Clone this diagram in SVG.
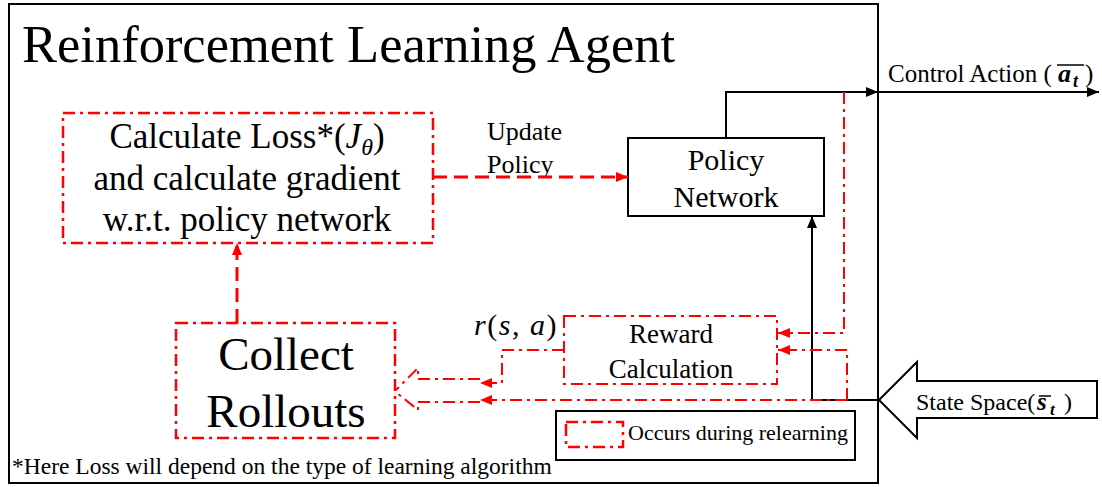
<svg xmlns="http://www.w3.org/2000/svg" width="1102" height="487" viewBox="0 0 1102 487">
<style>
text{font-family:"Liberation Serif","Times New Roman",serif;fill:#000}
.blk{fill:none;stroke:#000;stroke-width:2}
.rdd{fill:none;stroke:#f00;stroke-width:2.5;stroke-dasharray:12 5 3 5}
.rdl{fill:none;stroke:#f00;stroke-width:2;stroke-dasharray:12 5 3 5}
.rda{fill:none;stroke:#f00;stroke-width:3;stroke-dasharray:14 7}
.c{text-anchor:middle}
.mi{font-style:italic}
.mb{font-style:italic;font-weight:bold}
</style>
<defs>
<marker id="ar" viewBox="0 0 12 10" refX="12" refY="5" markerWidth="12" markerHeight="10" markerUnits="userSpaceOnUse" orient="auto"><path d="M0,0L12,5L0,10Z" fill="#f00"/></marker>
<marker id="ab" viewBox="0 0 12 10" refX="12" refY="5" markerWidth="12" markerHeight="10" markerUnits="userSpaceOnUse" orient="auto"><path d="M0,0L12,5L0,10Z" fill="#000"/></marker>
</defs>
<rect width="1102" height="487" fill="#fff"/>

<g id="agent">
<rect x="9" y="4" width="869" height="479" class="blk"/>
<text x="22" y="62" font-size="52.5">Reinforcement Learning Agent</text>
</g>

<g id="loss">
<rect x="63" y="113" width="370" height="130" class="rdd" stroke-width="3"/>
<text x="247" y="148" font-size="35" class="c">Calculate Loss*(<tspan class="mi">J</tspan><tspan class="mi" font-size="24" dy="7">θ</tspan><tspan dy="-7">)</tspan></text>
<text x="247" y="190" font-size="35" class="c">and calculate gradient</text>
<text x="247" y="231" font-size="35" class="c">w.r.t. policy network</text>
</g>

<g id="policy">
<rect x="628" y="138" width="196" height="78" class="blk"/>
<text x="726" y="170" font-size="30" class="c">Policy</text>
<text x="726" y="207" font-size="30" class="c">Network</text>
</g>

<g id="reward">
<rect x="564" y="316" width="213" height="68" class="rdl"/>
<text x="671" y="343" font-size="27" class="c">Reward</text>
<text x="671" y="378" font-size="27" class="c">Calculation</text>
</g>

<g id="collect">
<rect x="176" y="323" width="219" height="115" class="rdd"/>
<text x="286" y="370" font-size="47" class="c">Collect</text>
<text x="286" y="427" font-size="47" class="c">Rollouts</text>
</g>

<g id="state">
<path d="M879,400L917,362V381H1097V418H917V438Z" class="blk"/>
<text x="916" y="410" font-size="24">State Space(</text>
<text x="1037" y="410" font-size="25" class="mb">s</text>
<text x="1050" y="415" font-size="17" class="mb">t</text>
<text x="1064" y="410" font-size="24">)</text>
<line x1="1039" y1="396" x2="1051" y2="396" stroke="#000" stroke-width="1.5"/>
</g>

<g id="legend">
<rect x="556" y="411" width="299" height="49" class="blk"/>
<rect x="566" y="422" width="57" height="25" class="rdd" stroke-width="3"/>
<text x="628" y="440" font-size="22">Occurs during relearning</text>
</g>

<g id="labels">
<text x="487" y="140" font-size="26">Update</text>
<text x="487" y="173" font-size="26">Policy</text>
<text x="888" y="82" font-size="25">Control Action (</text>
<text x="1058" y="82" font-size="26" class="mb">a</text>
<text x="1073" y="87" font-size="18" class="mb">t</text>
<text x="1085" y="82" font-size="25">)</text>
<line x1="1057" y1="65" x2="1084" y2="65" stroke="#000" stroke-width="1.5"/>
<text x="474" y="335" font-size="30" letter-spacing="1.5"><tspan class="mi">r</tspan>(<tspan class="mi">s</tspan>, <tspan class="mi">a</tspan>)</text>
<text x="12" y="474" font-size="23.5">*Here Loss will depend on the type of learning algorithm</text>
</g>

<g id="connectors">
<path d="M433,177H628" class="rda" marker-end="url(#ar)"/>
<path d="M237,323V243" class="rda" marker-end="url(#ar)"/>
<path d="M726,138V92H878" class="blk" marker-end="url(#ab)"/>
<path d="M879,92H1099" class="blk" marker-end="url(#ab)"/>
<path d="M879,400H812V216" class="blk" marker-end="url(#ab)"/>
<path d="M844,92V333H778" class="rdl" marker-end="url(#ar)"/>
<path d="M847,400V350H778" class="rdl" marker-end="url(#ar)"/>
<path d="M847,400H480" class="rdl" marker-end="url(#ar)"/>
<path d="M564,350H502V383H480" class="rdl" marker-end="url(#ar)"/>
<path d="M480,379H418V368L396,390" class="rdl"/>
<path d="M480,402H418V410L397,393" class="rdl"/>
</g>
</svg>
